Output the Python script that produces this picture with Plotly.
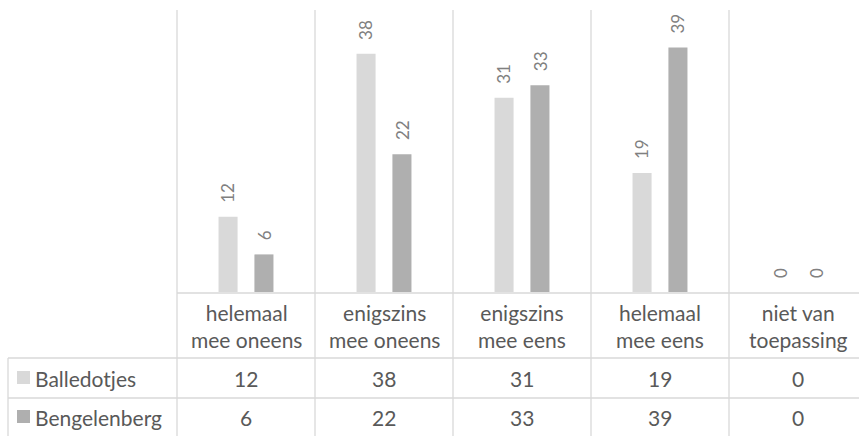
import plotly.graph_objects as go

# data
categorieen = ['helemaal mee oneens', 'enigszins mee oneens', 'enigszins mee eens',
               'helemaal mee eens', 'niet van toepassing']
kop_labels = ['helemaal<br>mee oneens', 'enigszins<br>mee oneens', 'enigszins<br>mee eens',
              'helemaal<br>mee eens', 'niet van<br>toepassing']
balledotjes = [12, 38, 31, 19, 0]
bengelenberg = [6, 22, 33, 39, 0]
reeksen = ['Balledotjes', 'Bengelenberg']

kleuren = {'Balledotjes': '#d9d9d9', 'Bengelenberg': '#afafaf'}
lijn = '#d9d9d9'
tekst = '#595959'
lettertype = 'Lato'

W, H = 859, 436
L, R, T, B = 177, 0, 10, 144
plot_w = W - L - R
plot_h = H - T - B
cat_w = 138  # pixels per category


def px_x(p):
    return (p - L) / plot_w


def px_y(p):
    return (H - B - p) / plot_h


fig = go.Figure()
waarden = {'Balledotjes': balledotjes, 'Bengelenberg': bengelenberg}
offsets = {'Balledotjes': -0.199, 'Bengelenberg': 0.061}
for naam in reeksen:
    fig.add_trace(go.Bar(
        x=list(range(len(categorieen))), y=waarden[naam], name=naam,
        width=0.138, offset=offsets[naam],
        marker=dict(color=kleuren[naam], line=dict(width=0)),
        showlegend=False, hoverinfo='skip',
    ))
    # data labels, rotated
    for i, v in enumerate(waarden[naam]):
        fig.add_annotation(
            x=i + offsets[naam] + 0.069, y=v, xref='x', yref='y',
            text=str(v), textangle=-90, showarrow=False,
            yanchor='bottom', xanchor='center', yshift=12,
            font=dict(family=lettertype, size=17, color='#808080'))

# grid / table lines
shapes = []
for k in range(len(categorieen) + 1):
    xp = L + cat_w * k
    shapes.append(dict(type='line', xref='paper', yref='paper',
                       x0=px_x(xp), x1=px_x(xp), y0=px_y(10), y1=px_y(H),
                       line=dict(color=lijn, width=1.3)))
shapes.append(dict(type='line', xref='paper', yref='paper',
                   x0=px_x(L), x1=px_x(W), y0=px_y(293), y1=px_y(293),
                   line=dict(color=lijn, width=1.3)))
for yp in [358, 398]:
    shapes.append(dict(type='line', xref='paper', yref='paper',
                       x0=px_x(8), x1=px_x(W), y0=px_y(yp), y1=px_y(yp),
                       line=dict(color=lijn, width=1.3)))
shapes.append(dict(type='line', xref='paper', yref='paper',
                   x0=px_x(8), x1=px_x(8), y0=px_y(358), y1=px_y(H),
                   line=dict(color=lijn, width=1.3)))

# table header
for i, lab in enumerate(kop_labels):
    fig.add_annotation(x=i, y=px_y(326), xref='x', yref='paper', text=lab,
                       showarrow=False, xanchor='center', yanchor='middle',
                       font=dict(family=lettertype, size=21, color=tekst))

# table rows
rij_y = {'Balledotjes': 378, 'Bengelenberg': 417}
for naam in reeksen:
    yc = rij_y[naam]
    shapes.append(dict(type='rect', xref='paper', yref='paper',
                       x0=px_x(17), x1=px_x(30), y0=px_y(yc - 7), y1=px_y(yc + 6),
                       fillcolor=kleuren[naam], line=dict(width=0)))
    fig.add_annotation(x=px_x(33), y=px_y(yc), xref='paper', yref='paper', text=naam,
                       showarrow=False, xanchor='left', yanchor='middle',
                       font=dict(family=lettertype, size=21, color=tekst))
    for i, v in enumerate(waarden[naam]):
        fig.add_annotation(x=i, y=px_y(yc), xref='x', yref='paper', text=str(v),
                           showarrow=False, xanchor='center', yanchor='middle',
                           font=dict(family=lettertype, size=21, color=tekst))

fig.update_layout(
    width=W, height=H, autosize=False,
    margin=dict(l=L, r=R, t=T, b=B, pad=0),
    paper_bgcolor='white', plot_bgcolor='white',
    shapes=shapes,
    xaxis=dict(range=[-0.5, -0.5 + plot_w / cat_w], visible=False, fixedrange=True),
    yaxis=dict(range=[0, 45], visible=False, fixedrange=True),
)

fig.write_html("out.html", config={'displayModeBar': False},
               post_script="document.body.style.margin='0';")
